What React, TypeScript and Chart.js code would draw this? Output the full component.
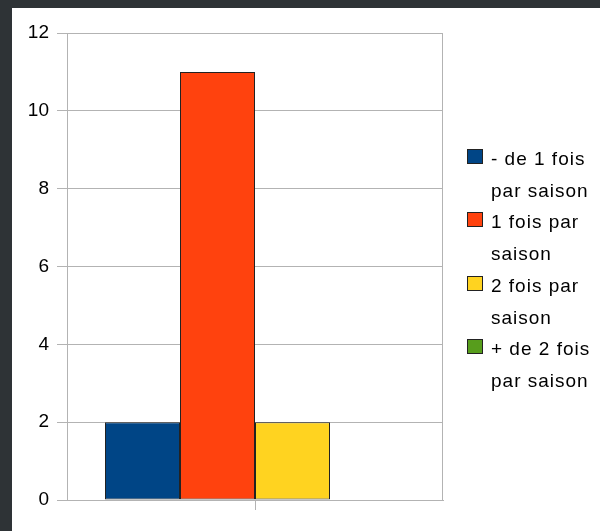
import React, { useEffect, useRef } from "react";
import { Chart, registerables } from "chart.js";

Chart.register(...registerables);

const categories: string[] = [""];
const seriesNames: string[][] = [
  ["- de 1 fois", "par saison"],
  ["1 fois par", "saison"],
  ["2 fois par", "saison"],
  ["+ de 2 fois", "par saison"],
];
const seriesValues: number[][] = [[2], [11], [2], [0]];
const seriesColors: string[] = ["#004586", "#ff420e", "#ffd320", "#579d1c"];
const yTicks: number[] = [0, 2, 4, 6, 8, 10, 12];

const FONT = "'Liberation Sans', Arial, sans-serif";
const GRID = "#b3b3b3";

const legendPlugin = {
  id: "customLegend",
  afterDraw(chart: any) {
    const ctx = chart.ctx as CanvasRenderingContext2D;
    const area = chart.chartArea;
    ctx.save();
    // right frame line
    ctx.strokeStyle = GRID;
    ctx.lineWidth = 1;
    ctx.beginPath();
    ctx.moveTo(Math.round(area.right) - 0.5, area.top);
    ctx.lineTo(Math.round(area.right) - 0.5, area.bottom);
    ctx.stroke();

    const boxX = Math.round(area.right) + 24;
    const textX = boxX + 24;
    const itemH = 63.3;
    const startY = (area.top + area.bottom) / 2 - 117.5;
    ctx.font = `19px ${FONT}`;
    (ctx as any).letterSpacing = "1px";
    ctx.textBaseline = "alphabetic";
    ctx.textAlign = "left";
    chart.data.datasets.forEach((ds: any, i: number) => {
      const top = Math.round(startY + i * itemH);
      ctx.fillStyle = ds.backgroundColor;
      ctx.fillRect(boxX, top, 15, 15);
      ctx.strokeStyle = "#222";
      ctx.lineWidth = 1;
      ctx.strokeRect(boxX + 0.5, top + 0.5, 15, 14);
      ctx.fillStyle = "#000";
      const lines: string[] = seriesNames[i];
      lines.forEach((ln, j) => {
        ctx.fillText(ln, textX, top + 16 + j * 32);
      });
    });
    ctx.restore();
  },
};

export default function App() {
  const ref = useRef<HTMLCanvasElement | null>(null);
  useEffect(() => {
    if (!ref.current) return;
    const chart = new Chart(ref.current, {
      type: "bar",
      data: {
        labels: categories,
        datasets: seriesValues.map((vals, i) => ({
          label: seriesNames[i].join(" "),
          data: vals,
          backgroundColor: seriesColors[i],
          borderColor: "#222",
          borderWidth: 1,
          borderSkipped: false,
          categoryPercentage: 300 / 376,
          barPercentage: 1.0,
        })),
      },
      options: {
        responsive: false,
        animation: false,
        layout: { padding: { left: 0, top: 25, right: 157, bottom: 0 } },
        plugins: {
          legend: { display: false },
          tooltip: { enabled: false },
        },
        scales: {
          x: {
            grid: {
              offset: false,
              drawOnChartArea: false,
              color: GRID,
              tickLength: 10,
            },
            border: { color: GRID },
            ticks: { display: true, font: { size: 1 }, color: "rgba(0,0,0,0)" },
            afterFit: (scale: any) => {
              scale.height = 31;
            },
          },
          y: {
            min: 0,
            max: 12,
            afterBuildTicks: (scale: any) => {
              scale.ticks = yTicks.map((v) => ({ value: v }));
            },
            grid: { color: GRID, tickLength: 10 },
            border: { color: GRID },
            ticks: {
              color: "#000",
              padding: 8,
              font: { size: 19, family: FONT },
            },
            afterFit: (scale: any) => {
              scale.width = 55;
            },
          },
        },
      },
      plugins: [legendPlugin],
    });
    return () => chart.destroy();
  }, []);

  return (
    <div
      style={{
        position: "fixed",
        left: 0,
        top: 0,
        width: 600,
        height: 531,
        background: "#2e3336",
      }}
    >
      <div
        style={{
          position: "absolute",
          left: 12,
          top: 8,
          width: 588,
          height: 523,
          background: "#fff",
        }}
      >
        <canvas ref={ref} width={588} height={523} style={{ display: "block" }} />
      </div>
    </div>
  );
}
